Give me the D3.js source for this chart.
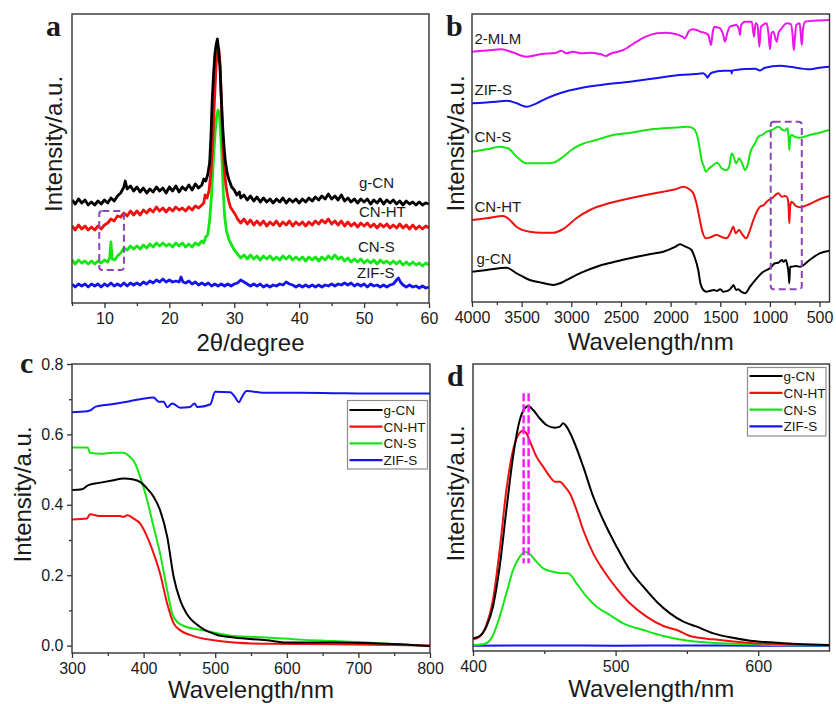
<!DOCTYPE html>
<html><head><meta charset="utf-8">
<script src="https://cdn.jsdelivr.net/npm/d3@7"></script>
<style>
body{margin:0;background:#fff;}
svg text{font-family:"Liberation Sans",Arial,Helvetica,sans-serif;fill:#1a1a1a;}
</style></head><body>
<svg id="fig" width="836" height="704"></svg>
<script>
// ---------- shared ----------
const sampleNames = ["g-CN", "CN-HT", "CN-S", "ZIF-S"];
const sampleColors = {"g-CN": "#000000", "CN-HT": "#f01010", "CN-S": "#14e614", "ZIF-S": "#1414f0", "2-MLM": "#ee14ee"};

// ---------- (a) XRD patterns: [2θ, intensity] ----------
const xrdGCN = [[5,103],[5.5,99],[6,104],[6.5,100],[7,103],[7.5,98],[8,101],[8.5,98],[9,102],[9.5,99],[10,103],[10.5,100],[11,105],[11.5,102],[12,107],[12.5,110],[13,116],[13.2,122],[13.5,114],[14,117],[14.5,112],[15,116],[15.5,111],[16,115],[16.5,110],[17,114],[17.5,111],[18,116],[18.5,112],[19,115],[19.5,110],[20,116],[20.5,112],[21,117],[21.5,111],[22,116],[22.5,113],[23,118],[23.5,113],[24,119],[24.5,115],[25,118],[25.3,124],[25.6,122],[25.9,128],[26.2,140],[26.4,165],[26.6,203],[26.8,228],[27.0,248],[27.2,258],[27.4,264],[27.6,252],[27.8,236],[28.0,205],[28.2,178],[28.4,158],[28.6,143],[28.9,130],[29.2,123],[29.6,116],[30.0,113],[30.4,108],[30.8,111],[31,105],[31.5,108],[32,103],[32.5,107],[33,102],[33.5,106],[34,101],[34.5,105],[35,101],[35.5,104],[36,100],[36.5,104],[37,101],[37.5,105],[38,100],[38.5,104],[39,101],[39.5,104],[40,100],[40.5,104],[41,101],[41.5,105],[42,102],[42.5,106],[43,103],[43.5,107],[44,104],[44.5,109],[45,104],[45.5,107],[46,103],[46.5,108],[47,102],[47.5,105],[48,101],[48.5,104],[49,100],[49.5,104],[50,101],[50.5,104],[51,99],[51.5,103],[52,100],[52.5,104],[53,99],[53.5,103],[54,100],[54.5,103],[55,99],[55.5,102],[56,98],[56.5,102],[57,99],[57.5,101],[58,98],[58.5,101],[59,98],[59.5,100],[60,99]];
const xrdCNHT = [[5,77],[5.5,73],[6,78],[6.5,74],[7,77],[7.5,73],[8,76],[8.5,73],[9,77],[9.5,74],[10,78],[10.5,80],[11,84],[11.5,82],[12,87],[12.5,86],[13,90],[13.5,87],[14,92],[14.5,88],[15,92],[15.5,88],[16,93],[16.5,90],[17,94],[17.5,91],[18,96],[18.5,92],[19,95],[19.5,91],[20,95],[20.5,92],[21,96],[21.5,93],[22,95],[22.5,92],[23,96],[23.5,93],[24,97],[24.5,95],[25,98],[25.3,100],[25.5,108],[25.8,105],[26.1,112],[26.4,130],[26.7,165],[27.0,210],[27.2,238],[27.4,250],[27.6,255],[27.8,240],[28.0,205],[28.2,168],[28.4,140],[28.7,118],[29.0,106],[29.4,96],[29.8,92],[30.2,88],[30.5,84],[31,80],[31.5,84],[32,79],[32.5,83],[33,78],[33.5,82],[34,78],[34.5,82],[35,77],[35.5,81],[36,78],[36.5,82],[37,77],[37.5,81],[38,78],[38.5,82],[39,77],[39.5,81],[40,78],[40.5,81],[41,77],[41.5,81],[42,78],[42.5,82],[43,79],[43.5,83],[44,80],[44.5,84],[45,79],[45.5,82],[46,78],[46.5,82],[47,77],[47.5,81],[48,77],[48.5,80],[49,76],[49.5,80],[50,77],[50.5,80],[51,76],[51.5,79],[52,75],[52.5,79],[53,76],[53.5,79],[54,75],[54.5,78],[55,75],[55.5,79],[56,75],[56.5,78],[57,74],[57.5,78],[58,74],[58.5,77],[59,74],[59.5,77],[60,75]];
const xrdCNS = [[5,43],[5.5,39],[6,43],[6.5,40],[7,42],[7.5,39],[8,42],[8.5,39],[9,42],[9.5,40],[10,43],[10.5,41],[10.8,45],[11.0,61],[11.2,44],[11.6,43],[12,47],[12.5,50],[13,55],[13.5,53],[14,57],[14.5,54],[15,57],[15.5,54],[16,58],[16.5,55],[17,59],[17.5,56],[18,60],[18.5,57],[19,60],[19.5,57],[20,59],[20.5,56],[21,60],[21.5,57],[22,60],[22.5,56],[23,59],[23.5,56],[24,60],[24.5,58],[25,62],[25.3,60],[25.6,66],[25.9,68],[26.2,82],[26.5,108],[26.8,145],[27.1,175],[27.3,187],[27.5,193],[27.7,190],[27.9,168],[28.1,145],[28.3,112],[28.5,88],[28.8,72],[29.2,63],[29.6,58],[30.0,53],[30.5,49],[31,45],[31.5,48],[32,44],[32.5,48],[33,44],[33.5,47],[34,43],[34.5,47],[35,44],[35.5,47],[36,43],[36.5,46],[37,43],[37.5,47],[38,44],[38.5,47],[39,43],[39.5,46],[40,43],[40.5,46],[41,42],[41.5,46],[42,43],[42.5,46],[43,42],[43.5,46],[44,43],[44.5,47],[45,44],[45.5,48],[46,44],[46.5,46],[47,42],[47.5,45],[48,41],[48.5,44],[49,41],[49.5,44],[50,40],[50.5,43],[51,40],[51.5,43],[52,39],[52.5,43],[53,40],[53.5,42],[54,39],[54.5,42],[55,39],[55.5,42],[56,38],[56.5,41],[57,38],[57.5,41],[58,38],[58.5,40],[59,37],[59.5,40],[60,38]];
const xrdZIFS = [[5,19],[5.5,16],[6,19],[6.5,17],[7,19],[7.5,16],[8,19],[8.5,17],[9,19],[9.5,16],[10,19],[10.5,17],[11,20],[11.5,17],[12,19],[12.5,17],[13,20],[13.5,17],[14,20],[14.5,18],[15,20],[15.5,18],[16,21],[16.5,19],[17,22],[17.5,20],[18,23],[18.5,21],[19,24],[19.5,21],[20,23],[20.5,21],[21,22],[21.5,21],[21.8,26],[22.1,21],[22.5,20],[23,22],[23.5,19],[24,21],[24.5,18],[25,20],[25.5,18],[26,20],[26.5,17],[27,19],[27.5,17],[28,19],[28.5,17],[29,19],[29.5,17],[30,19],[30.5,20],[31,23],[31.5,21],[32,19],[32.5,17],[33,19],[33.5,17],[34,19],[34.5,16],[35,18],[35.5,16],[36,18],[36.5,17],[37,19],[37.5,18],[38,21],[38.5,19],[39,18],[39.5,16],[40,18],[40.5,16],[41,18],[41.5,16],[42,18],[42.5,16],[43,18],[43.5,16],[44,18],[44.5,17],[45,19],[45.5,17],[46,19],[46.5,18],[47,20],[47.5,18],[48,20],[48.5,17],[49,19],[49.5,17],[50,19],[50.5,16],[51,19],[51.5,17],[52,18],[52.5,16],[53,18],[53.5,16],[54,18],[54.5,19],[55,23],[55.3,25],[55.6,21],[56,18],[56.5,16],[57,18],[57.5,16],[58,17],[58.5,15],[59,17],[59.5,15],[60,16]];
const xrdTicks = [10, 20, 30, 40, 50, 60];
const xrdMinorTicks = [5, 15, 25, 35, 45, 55];
const xrdBox = [9.2, 13.0, 33, 92];   // 2θ from, 2θ to, intensity from, intensity to

// ---------- (b) FTIR spectra: [wavenumber, transmittance a.u.] ----------
const ftirMLM = [[4000,250.3],[3850,251.5],[3700,252.7],[3600,250],[3452,245.3],[3300,248],[3150,249.3],[3100,251.3],[3050,248.7],[2982,250.3],[2900,248.7],[2800,249.3],[2700,247.7],[2650,246],[2612,248],[2477,252],[2343,260.3],[2250,265.3],[2141,268.7],[2040,269.3],[1940,267.7],[1880,265.3],[1856,263.7],[1820,270.3],[1780,272.7],[1738,272],[1700,270.3],[1660,269.3],[1620,267],[1593,257],[1575,270.3],[1560,275.3],[1530,274.7],[1503,273.7],[1470,267],[1452,260.3],[1430,268.7],[1402,275.3],[1340,277],[1310,272],[1301,267],[1290,277],[1251,280.3],[1183,280.3],[1160,265.3],[1145,278.7],[1125,277],[1106,255.3],[1090,275.3],[1032,278.7],[1015,268.7],[999,252.7],[985,268.7],[965,270.3],[945,263.7],[931,260.3],[915,268.7],[881,273.7],[830,278.7],[790,278],[770,265.3],[760,252],[750,262],[735,277],[700,278.7],[690,268.7],[679,257],[668,272],[646,280.3],[550,281.3],[400,282]];
const ftirZIFS = [[4000,198.7],[3755,200.3],[3650,201.3],[3550,198.7],[3452,195.3],[3350,198.7],[3250,203.7],[3100,209.3],[2914,213.7],[2700,217],[2410,220.3],[2150,223.7],[1906,227],[1750,228],[1671,228.7],[1640,226],[1627,224.3],[1610,227],[1587,229.3],[1469,231.3],[1390,231.3],[1385,228.5],[1380,231.3],[1234,233],[1150,233.3],[1100,231.5],[1050,234.3],[898,236.3],[800,235.3],[700,233.7],[612,232.7],[500,234.3],[400,235.3]];
const ftirCNS = [[4000,150.3],[3850,152.7],[3721,155.3],[3637,153.7],[3550,145.3],[3452,138.7],[3300,138.7],[3183,139.3],[3082,145.3],[3000,152],[2914,157],[2750,162],[2578,167],[2400,169.3],[2242,172],[2074,173.7],[1906,174.7],[1830,175.3],[1772,173.7],[1740,168.7],[1722,162],[1705,152],[1688,142],[1665,135.3],[1644,130.3],[1610,133.7],[1570,137],[1530,139.3],[1486,133.7],[1436,132],[1410,135.3],[1385,148.7],[1365,145.3],[1340,138.7],[1310,143.7],[1280,138.7],[1251,132],[1220,138.7],[1200,148.7],[1150,158.7],[1116,165.3],[1080,167],[1032,170.3],[980,172],[915,175.3],[870,172],[848,171.3],[825,173.7],[815,168.7],[805,152],[795,165.3],[780,167],[740,164.7],[697,164.3],[600,167],[500,169.3],[400,172]];
const ftirCNHT = [[4000,82],[3850,83.7],[3687,86],[3620,82],[3553,75.3],[3419,70.3],[3300,69.3],[3183,69.3],[3100,72],[3049,75.3],[2950,83.7],[2813,92],[2600,99.3],[2410,103.7],[2200,108],[2074,110.3],[1950,112.7],[1873,115.3],[1800,112],[1772,108.7],[1740,98.7],[1712,85.3],[1680,70.3],[1644,63.7],[1600,64.7],[1537,67],[1480,64.7],[1436,63.7],[1400,68.7],[1368,75.3],[1345,68.7],[1310,72],[1285,68.7],[1241,63.7],[1200,72],[1167,82],[1100,95.3],[1060,97],[1032,100.3],[980,103.7],[915,108.7],[880,105.3],[848,106],[825,104.7],[812,95.3],[805,78.7],[795,97],[781,100.3],[740,96],[697,94.7],[600,98],[500,102.7],[400,106]];
const ftirGCN = [[4000,30.3],[3850,32],[3654,34.3],[3550,28.7],[3419,22],[3300,19.3],[3183,17],[3100,19.3],[3015,23.7],[2900,29.3],[2746,35.3],[2600,39.3],[2410,43.7],[2200,48],[2074,50.3],[1950,55.3],[1906,57.7],[1850,55.3],[1790,52],[1760,45.3],[1722,32],[1700,18.7],[1670,12],[1640,10.3],[1600,11.3],[1560,12],[1537,11],[1500,12.7],[1469,10.3],[1420,11.3],[1380,15.3],[1368,17],[1340,12],[1318,12.7],[1290,10.3],[1251,8.7],[1200,15.3],[1133,23.7],[1066,30.3],[1000,33.7],[950,38.7],[915,39.3],[880,42],[864,40.3],[840,42],[825,37],[812,28.7],[805,18.7],[797,35.3],[781,35.3],[740,36],[697,35.3],[600,42],[500,48.7],[400,51.3]];
const ftirTicks = [4000, 3500, 3000, 2500, 2000, 1500, 1000, 500];
const ftirMinorTicks = [3750, 3250, 2750, 2250, 1750, 1250, 750];
const ftirBox = [992, 679, 12.7, 180.3];

// ---------- (c) UV-vis absorbance: [wavelength, absorbance] ----------
const uvZIFS = [[300,0.663],[321,0.666],[327,0.670],[333,0.679],[353,0.685],[377,0.693],[395,0.700],[414,0.705],[421,0.693],[428,0.693],[433,0.677],[440,0.688],[451,0.676],[465,0.678],[471,0.688],[475,0.678],[493,0.685],[500,0.721],[521,0.720],[528,0.705],[533,0.691],[537,0.705],[544,0.723],[572,0.718],[619,0.718],[665,0.717],[712,0.716],[800,0.716]];
const uvCNS = [[300,0.563],[322,0.563],[325,0.548],[340,0.545],[358,0.548],[372,0.548],[381,0.536],[388,0.518],[395,0.480],[405,0.413],[414,0.337],[423,0.262],[433,0.157],[440,0.091],[447,0.067],[460,0.053],[479,0.045],[526,0.027],[572,0.023],[619,0.017],[665,0.013],[712,0.0085],[758,0.003],[800,-0.002]];
const uvGCN = [[300,0.442],[314,0.444],[323,0.456],[340,0.463],[358,0.470],[372,0.475],[386,0.472],[395,0.465],[405,0.446],[414,0.423],[423,0.385],[433,0.309],[442,0.195],[451,0.129],[460,0.091],[479,0.053],[502,0.031],[526,0.023],[572,0.015],[600,0.0085],[665,0.0085],[758,0.004],[800,-0.001]];
const uvCNHT = [[300,0.358],[321,0.361],[325,0.373],[340,0.368],[367,0.368],[372,0.366],[377,0.370],[386,0.361],[395,0.347],[405,0.309],[414,0.262],[423,0.205],[433,0.119],[442,0.063],[451,0.044],[470,0.027],[498,0.015],[526,0.0085],[572,0.005],[665,0.004],[800,0.0]];
const uvXTicks = [300, 400, 500, 600, 700, 800];
const uvXMinorTicks = [350, 450, 550, 650, 750];
const uvYTicks = [0.0, 0.2, 0.4, 0.6, 0.8];
const uvYMinorTicks = [0.1, 0.3, 0.5, 0.7];

// ---------- (d) PL emission: [wavelength, intensity a.u.] ----------
const plGCN = [[400,38],[404.7,45],[409.4,73],[414,133],[418.7,253],[423.4,423],[428.1,583],[432.8,693],[436.3,728],[438.6,735],[442.2,723],[446.8,698],[451.5,678],[457.4,670],[460.9,673],[463.2,683],[465.6,673],[470.3,633],[477.3,553],[484.3,463],[491.3,393],[500.7,313],[510,243],[519.4,193],[528.8,148],[538.2,113],[547.5,88],[556.9,73],[568.6,53],[580.3,41],[594.4,31],[608.4,26],[627.2,21],[650,18]];
const plCNHT = [[400,35],[404.7,43],[409.4,78],[414,153],[418.7,303],[423.4,483],[428.1,603],[432.8,655],[435.1,661],[437.5,653],[441,618],[444.5,583],[449.2,553],[453.9,523],[457.4,508],[460.9,508],[464.4,493],[467.9,473],[472.6,423],[477.3,363],[484.3,293],[491.3,243],[500.7,188],[510,143],[521.7,103],[533.5,75],[542.9,63],[552.2,45],[568.6,35],[592,25],[615.4,21],[650,18]];
const plCNS = [[400,18],[407,20],[412.9,38],[418.7,103],[423.4,173],[428.1,243],[432.8,283],[436.3,298],[439.8,291],[444.5,268],[449.2,248],[456.2,238],[463.2,233],[466.7,233],[472.6,203],[479.6,163],[486.7,133],[496,108],[505.4,83],[519.4,63],[533.5,45],[552.2,30],[573.3,23],[603.7,19],[650,17]];
const plZIFS = [[400,16],[450,16.5],[500,16],[550,16.5],[600,16],[650,16]];
const plTicks = [400, 500, 600];
const plMinorTicks = [450, 550];
const plPeakMarks = [435.5, 439];
const plPeakMarkRange = [263, 773];

// ---------- drawing ----------
const svg = d3.select("#fig");
const axisColor = "#333";
const labelFont = '"Liberation Sans",Arial,sans-serif';

function framePanel(p) {
  const x = d3.scaleLinear().domain(p.xDomain).range([p.left, p.right]);
  const y = d3.scaleLinear().domain(p.yDomain).range([p.bottom, p.top]);
  const g = svg.append("g");
  const clipId = "clip-" + p.id;
  svg.append("clipPath").attr("id", clipId).append("rect")
    .attr("x", p.left).attr("y", p.top)
    .attr("width", p.right - p.left).attr("height", p.bottom - p.top);
  const plot = g.append("g").attr("clip-path", `url(#${clipId})`);

  // bottom axis: major with labels, minor without
  const xa = g.append("g").attr("transform", `translate(0,${p.bottom})`)
    .call(d3.axisBottom(x).tickValues(p.xTicks).tickSize(5).tickPadding(4.5)
      .tickSizeOuter(0).tickFormat(d3.format("d")));
  const xm = g.append("g").attr("transform", `translate(0,${p.bottom})`)
    .call(d3.axisBottom(x).tickValues(p.xMinor).tickSize(3).tickFormat("").tickSizeOuter(0));
  [xa, xm].forEach(a => { a.select(".domain").remove(); a.selectAll("line").attr("stroke", axisColor).attr("stroke-width", 1.3); });
  xa.selectAll("text").attr("font-size", 16).attr("fill", "#1a1a1a").style("font-family", labelFont);

  if (p.yTicks) {
    const ya = g.append("g").attr("transform", `translate(${p.left},0)`)
      .call(d3.axisLeft(y).tickValues(p.yTicks).tickSize(5).tickPadding(3.5)
        .tickSizeOuter(0).tickFormat(d3.format(".1f")));
    const ym = g.append("g").attr("transform", `translate(${p.left},0)`)
      .call(d3.axisLeft(y).tickValues(p.yMinor).tickSize(3).tickFormat("").tickSizeOuter(0));
    [ya, ym].forEach(a => { a.select(".domain").remove(); a.selectAll("line").attr("stroke", axisColor).attr("stroke-width", 1.3); });
    ya.selectAll("text").attr("font-size", 16).attr("fill", "#1a1a1a").style("font-family", labelFont);
  }

  // frame
  g.append("rect").attr("x", p.left).attr("y", p.top)
    .attr("width", p.right - p.left).attr("height", p.bottom - p.top)
    .attr("fill", "none").attr("stroke", axisColor).attr("stroke-width", 1.4);

  // axis titles
  g.append("text").attr("x", (p.left + p.right) / 2).attr("y", p.xTitleY)
    .attr("text-anchor", "middle").attr("font-size", 24).text(p.xTitle);
  g.append("text").attr("transform", `translate(${p.yTitleX},${p.yTitleCY}) rotate(-90)`)
    .attr("text-anchor", "middle").attr("font-size", 24).text("Intensity/a.u.");

  // panel letter
  g.append("text").attr("x", p.letterX).attr("y", p.letterY)
    .attr("font-size", 30).attr("font-weight", "bold")
    .style("font-family", '"Liberation Serif","Times New Roman",serif')
    .text(p.letter);

  return {x, y, g, plot};
}

function drawSeries(panel, data, color, width, curve) {
  const line = d3.line().x(d => panel.x(d[0])).y(d => panel.y(d[1])).curve(curve);
  panel.plot.append("path").datum(data).attr("d", line)
    .attr("fill", "none").attr("stroke", color).attr("stroke-width", width)
    .attr("stroke-linejoin", "round");
}

function dashedBox(panel, box) {
  const x0 = panel.x(box[0]), x1 = panel.x(box[1]);
  const y0 = panel.y(box[2]), y1 = panel.y(box[3]);
  panel.g.append("rect")
    .attr("x", Math.min(x0, x1)).attr("y", Math.min(y0, y1))
    .attr("width", Math.abs(x1 - x0)).attr("height", Math.abs(y1 - y0))
    .attr("rx", 3).attr("fill", "none").attr("stroke", "#8a45b8")
    .attr("stroke-width", 2).attr("stroke-dasharray", "7,4");
}

function legend(panel, bx, by, bw, bh, rowY0, rowStep) {
  const lg = panel.g.append("g");
  lg.append("rect").attr("x", bx).attr("y", by).attr("width", bw).attr("height", bh)
    .attr("fill", "#fff").attr("stroke", "#8c8c8c").attr("stroke-width", 1.2);
  sampleNames.forEach((name, i) => {
    const yy = rowY0 + i * rowStep;
    lg.append("line").attr("x1", bx + 2).attr("x2", bx + 35).attr("y1", yy).attr("y2", yy)
      .attr("stroke", sampleColors[name]).attr("stroke-width", 2.2);
    lg.append("text").attr("x", bx + 36).attr("y", yy + 5).attr("font-size", 13.5).text(name);
  });
}

// (a) XRD
const pa = framePanel({id: "a", left: 72, right: 429, top: 14, bottom: 303,
  xDomain: [5, 60], yDomain: [0, 289], xTicks: xrdTicks, xMinor: xrdMinorTicks,
  xTitle: "2θ/degree", xTitleY: 351, yTitleX: 62, yTitleCY: 144, letter: "a", letterX: 46, letterY: 35.5});
[[xrdZIFS, "ZIF-S"], [xrdCNS, "CN-S"], [xrdCNHT, "CN-HT"], [xrdGCN, "g-CN"]]
  .forEach(([d, n]) => drawSeries(pa, d, sampleColors[n], 2.8, d3.curveLinear));
dashedBox(pa, xrdBox);
const xrdLabels = [["g-CN", 359, 188], ["CN-HT", 359, 217], ["CN-S", 358, 252], ["ZIF-S", 357, 278]];
xrdLabels.forEach(([t, lx, ly]) => pa.g.append("text").attr("x", lx).attr("y", ly).attr("font-size", 15).text(t));

// (b) FTIR
const pb = framePanel({id: "b", left: 472, right: 829.5, top: 14, bottom: 302,
  xDomain: [4000, 400], yDomain: [0, 288], xTicks: ftirTicks, xMinor: ftirMinorTicks,
  xTitle: "Wavelength/nm", xTitleY: 350, yTitleX: 463.5, yTitleCY: 143.5, letter: "b", letterX: 446, letterY: 36});
[[ftirMLM, "2-MLM"], [ftirZIFS, "ZIF-S"], [ftirCNS, "CN-S"], [ftirCNHT, "CN-HT"], [ftirGCN, "g-CN"]]
  .forEach(([d, n]) => drawSeries(pb, d, sampleColors[n], 2, d3.curveMonotoneX));
dashedBox(pb, ftirBox);
const ftirLabels = [["2-MLM", 474.5, 43.5], ["ZIF-S", 474.5, 95], ["CN-S", 474.5, 142], ["CN-HT", 474.5, 212], ["g-CN", 476.5, 264]];
ftirLabels.forEach(([t, lx, ly]) => pb.g.append("text").attr("x", lx).attr("y", ly).attr("font-size", 15).text(t));

// (c) UV-vis
const pc = framePanel({id: "c", left: 72, right: 430, top: 364, bottom: 653,
  xDomain: [300, 800], yDomain: [-0.021, 0.8], xTicks: uvXTicks, xMinor: uvXMinorTicks,
  yTicks: uvYTicks, yMinor: uvYMinorTicks,
  xTitle: "Wavelength/nm", xTitleY: 698, yTitleX: 31, yTitleCY: 494.5, letter: "c", letterX: 20, letterY: 373});
[[uvZIFS, "ZIF-S"], [uvCNS, "CN-S"], [uvCNHT, "CN-HT"], [uvGCN, "g-CN"]]
  .forEach(([d, n]) => drawSeries(pc, d, sampleColors[n], 2, d3.curveMonotoneX));
legend(pc, 347.5, 400.5, 80, 68.5, 410, 16.7);

// (d) PL
const pd = framePanel({id: "d", left: 473, right: 829.5, top: 364, bottom: 651,
  xDomain: [400, 650], yDomain: [0, 861], xTicks: plTicks, xMinor: plMinorTicks,
  xTitle: "Wavelength/nm", xTitleY: 697, yTitleX: 464, yTitleCY: 493.5, letter: "d", letterX: 447, letterY: 386});
[[plZIFS, "ZIF-S"], [plCNS, "CN-S"], [plCNHT, "CN-HT"], [plGCN, "g-CN"]]
  .forEach(([d, n]) => drawSeries(pd, d, sampleColors[n], 2, d3.curveMonotoneX));
plPeakMarks.forEach(w => {
  pd.g.append("line").attr("x1", pd.x(w)).attr("x2", pd.x(w))
    .attr("y1", pd.y(plPeakMarkRange[1])).attr("y2", pd.y(plPeakMarkRange[0]))
    .attr("stroke", "#ff1aff").attr("stroke-width", 2.5).attr("stroke-dasharray", "8,3");
});
legend(pd, 747.5, 367.5, 78.5, 68.5, 376, 16.8);
</script>
</body></html>
